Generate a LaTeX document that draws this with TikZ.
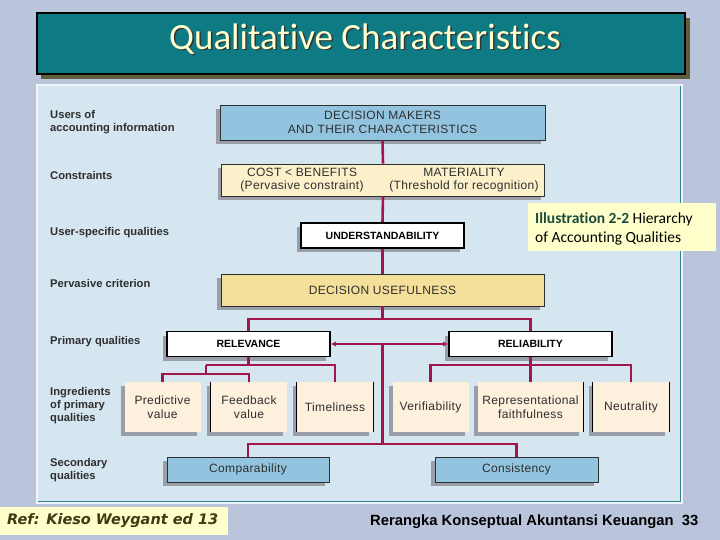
\documentclass[tikz,border=0pt]{standalone}
\usepackage{fontspec}
\setmainfont{Liberation Sans}
\newfontfamily\titlefont[Ligatures={NoCommon}]{Carlito}
\newfontfamily\boxfont[LetterSpace=3]{Liberation Sans}
\newfontfamily\reffont{DejaVu Sans}
\usetikzlibrary{arrows.meta,shadows}
\definecolor{bgc}{HTML}{BAC5DC}
\definecolor{tealc}{HTML}{0E7B84}
\definecolor{olivec}{HTML}{5E5C3A}
\definecolor{titletxt}{HTML}{FFFFD0}
\definecolor{panelc}{HTML}{D6E6F1}
\definecolor{panelline}{HTML}{2F8494}
\definecolor{bluebox}{HTML}{93C4DF}
\definecolor{creamc}{HTML}{FBF0CA}
\definecolor{yellowc}{HTML}{F4E09A}
\definecolor{ingc}{HTML}{FDF0DC}
\definecolor{crimson}{HTML}{A3164A}
\definecolor{shadowc}{HTML}{9A9EA8}
\definecolor{labelc}{HTML}{2E2E2E}
\definecolor{illc}{HTML}{FFFFCC}
\definecolor{illgreen}{HTML}{1C4A3A}
\definecolor{refc}{HTML}{3C3C14}
\tikzset{
  shad/.style={drop shadow={shadow xshift=-4pt,shadow yshift=-4pt,fill=shadowc,opacity=1}},
  btext/.style={inner sep=0pt,align=center,font=\fontsize{12}{13.5}\selectfont\boxfont,text=labelc},
  cbox/.style={shad,btext,draw=labelc,line width=0.6pt},
  wbox/.style={shad,draw=black,line width=1.6pt,fill=white,inner sep=0pt,
    minimum width=163pt,minimum height=25pt,font=\fontsize{10.5}{12}\selectfont\bfseries,text=black},
  ibox/.style={shad,btext,fill=ingc,minimum height=50pt},
  lbl/.style={anchor=west,align=left,inner sep=0pt,text=labelc,
    font=\fontsize{11.2}{13}\selectfont\bfseries},
  conn/.style={draw=crimson,line width=2.6pt},
  edge/.style={draw=black,line width=1pt}
}
\begin{document}
\begin{tikzpicture}[x=1pt,y=-1pt]
\useasboundingbox (0,0) rectangle (720,540);
\fill[bgc] (0,0) rectangle (720,540);
% title
\fill[olivec] (41,18) rectangle (690,79);
\draw[fill=tealc,line width=1.4pt] (37,13) rectangle (685,74);
\node[text=black!80,font=\fontsize{37}{42}\selectfont\titlefont] at (366.5,40.5) {Qualitative Characteristics};
\node (title) [text=titletxt,font=\fontsize{37}{42}\selectfont\titlefont] at (365,39) {Qualitative Characteristics};
% panel
\fill[white!60!panelc] (36,84) rectangle (683,504);
\fill[panelc] (38,86) rectangle (680,501);
\draw[panelline,line width=0.9pt] (680,86) -- (680,501) -- (38,501);
% left labels
\node[lbl] (l1) at (50,122.5) {Users of\\accounting information};
\node[lbl] (l2) at (50,175) {Constraints};
\node[lbl] (l3) at (50,233) {User-specific qualities};
\node[lbl] (l4) at (50,283) {Pervasive criterion};
\node[lbl] (l5) at (50,342) {Primary qualities};
\node[lbl] (l6) at (50,406) {Ingredients\\of primary\\qualities};
\node[lbl] (l7) at (50,470) {Secondary\\qualities};
% boxes
\node[cbox,fill=bluebox,minimum width=325pt,minimum height=35pt] (dm) at (382.5,122.5) {DECISION MAKERS\\AND THEIR CHARACTERISTICS};
\node[cbox,fill=creamc,minimum width=323pt,minimum height=32pt] (cons) at (383,180) {};
\node[btext] (cb) at (302,180) {COST < BENEFITS\\(Pervasive constraint)};
\node[btext] (mat) at (464,180) {MATERIALITY\\(Threshold for recognition)};
\node[wbox] (und) at (382.5,235.5) {UNDERSTANDABILITY};
\node[cbox,fill=yellowc,minimum width=323pt,minimum height=32pt] (du) at (382.5,290) {DECISION USEFULNESS};
\node[wbox] (rel) at (248.5,344) {RELEVANCE};
\node[wbox] (rli) at (530.5,344) {RELIABILITY};
\node[ibox,minimum width=76pt] (pv) at (162.5,407) {Predictive\\value};
\node[ibox,minimum width=76pt] (fv) at (249,407) {Feedback\\value};
\node[ibox,minimum width=76pt] (tl) at (335,407) {Timeliness};
\node[ibox,minimum width=76pt] (vf) at (430.5,407) {Verifiability};
\node[ibox,minimum width=105pt] (rf) at (530.5,407) {Representational\\faithfulness};
\node[ibox,minimum width=76pt] (nt) at (631,407) {Neutrality};
\node[cbox,fill=bluebox,minimum width=162pt,minimum height=25pt] (cmp) at (248,469.5) {Comparability};
\node[cbox,fill=bluebox,minimum width=163pt,minimum height=25pt] (cst) at (516.5,469.5) {Consistency};
% dark edges of ingredient boxes
\draw[edge] (fv.north west) -- (fv.south west);
\draw[edge] (tl.north west) -- (tl.south west);
\draw[edge] (tl.north east) -- (tl.south east);
\draw[edge] (rf.north east) -- (rf.south east);
\draw[edge] (nt.north west) -- (nt.south west);
\draw[edge] (nt.north east) -- (nt.south east);
% connectors
\draw[conn] (dm.south) -- (cons.north);
\draw[conn] (cons.south) -- (und.north);
\draw[conn] (und.south) -- (du.north);
\coordinate (j1) at (382.5,319);
\draw[conn] (du.south) -- (j1);
\draw[conn] (rel.north) |- (j1) -| (rli.north);
\draw[conn,{Latex[length=5pt,width=5pt]}-{Latex[length=5pt,width=5pt]},line width=1.6pt] (rel.east) -- (rli.west);
\coordinate (j2) at (382.5,344);
\coordinate (j3) at (382.5,444);
\draw[conn] (j2) -- (j3);
\draw[conn] (cmp.north) |- (j3) -| (cst.north);
\coordinate (r1) at (248.5,365);
\coordinate (r2) at (206,365);
\coordinate (r3) at (206,374);
\draw[conn] (rel.south) -- (r1);
\draw[conn] (r2) -- (r1) -| (tl.north);
\draw[conn] (r2) -- (r3);
\draw[conn] (pv.north) |- (r3) -| (fv.north);
\coordinate (k1) at (530.5,365);
\draw[conn] (rli.south) -- (rf.north);
\draw[conn] (vf.north) |- (k1) -| (nt.north);
% illustration label
\node[fill=illc,minimum width=188pt,minimum height=48pt,inner sep=0pt] (ill) at (622,227) {};
\node[anchor=west,align=left,inner sep=0pt,font=\fontsize{15.5}{19.5}\selectfont\titlefont] (illt) at (535,229) {{\bfseries\color{illgreen}Illustration 2-2} Hierarchy\\of Accounting Qualities};
% footer
\node[fill=illc,minimum width=228pt,minimum height=28pt,inner sep=0pt] (refbox) at (114,521) {};
\node[anchor=west,inner sep=0pt,text=refc,font=\fontsize{14.5}{16}\selectfont\reffont\bfseries\itshape] (reft) at (7,521) {Ref: Kieso Weygant ed 13};
\node[anchor=west,inner sep=0pt,text=black,font=\fontsize{14.8}{17}\selectfont\bfseries] (foot) at (370,522) {Rerangka Konseptual Akuntansi Keuangan\ \ 33};
\end{tikzpicture}
\end{document}
